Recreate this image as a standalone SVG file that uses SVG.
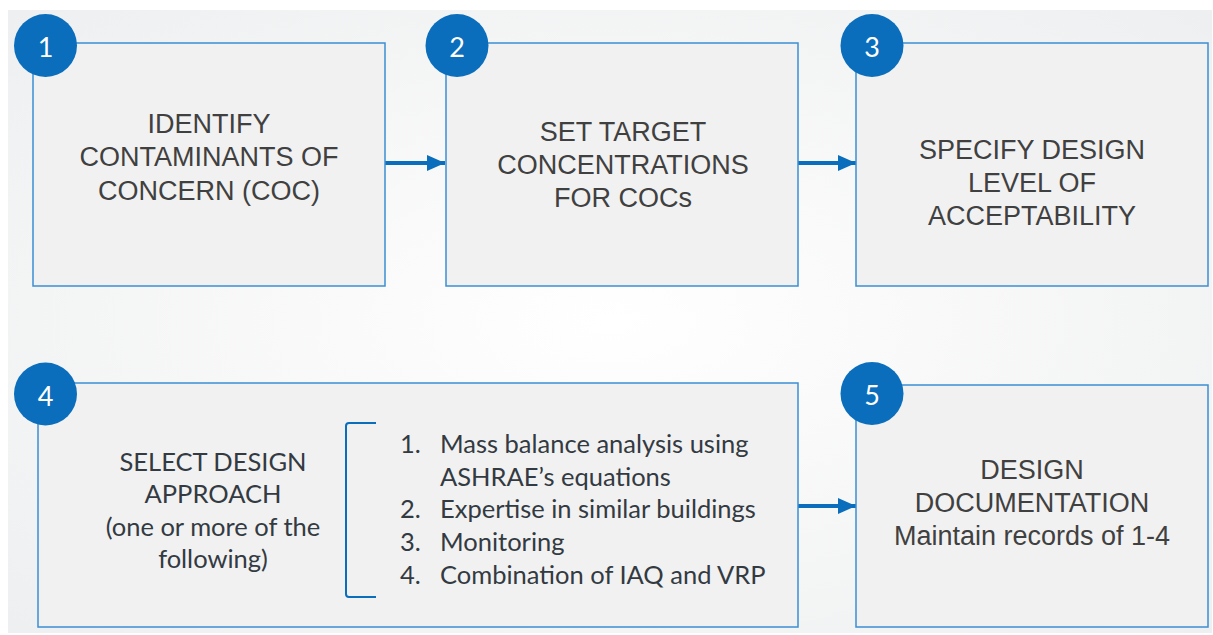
<svg xmlns="http://www.w3.org/2000/svg" width="1213" height="635" viewBox="0 0 1213 635">
<style>
.box{fill:#f1f1f1;stroke:#3b8ed3;stroke-width:1.5}
.badge{fill:#0a6ebd}
.num{fill:#ffffff;font-family:Lato,"Open Sans",sans-serif;font-size:27px;text-anchor:middle}
.t{fill:#404040;font-family:"Liberation Sans",Arial,sans-serif;font-size:27px;text-anchor:middle}
.g{fill:#333a42;font-family:Lato,"Open Sans",sans-serif;font-size:25.5px}
.gc{text-anchor:middle}
.conn{stroke:#0a6ebd;stroke-width:4;fill:none}
</style>
<defs>
<radialGradient id="bg" cx="0.5" cy="0.5" r="0.7">
<stop offset="0" stop-color="#ffffff"/>
<stop offset="1" stop-color="#eeeff0"/>
</radialGradient>
<marker id="ah" markerWidth="5" markerHeight="5" refX="4.5" refY="2.5" orient="auto" markerUnits="strokeWidth">
<path d="M0,0.5 L4.5,2.5 L0,4.5 Z" fill="#0a6ebd"/>
</marker>
</defs>
<rect x="0" y="0" width="1213" height="635" fill="#ffffff"/>
<rect x="8" y="10" width="1204" height="623" fill="url(#bg)"/>

<g id="connectors">
<line class="conn" x1="385" y1="163" x2="445" y2="163" marker-end="url(#ah)"/>
<line class="conn" x1="798" y1="163" x2="856" y2="163" marker-end="url(#ah)"/>
<line class="conn" x1="797" y1="506" x2="856" y2="506" marker-end="url(#ah)"/>
</g>

<g id="node1">
<rect class="box" x="33" y="43" width="352" height="243"/>
<circle class="badge" cx="45.5" cy="45.5" r="31.5"/>
<text class="num" x="45.5" y="57">1</text>
<text class="t" x="209" y="133">IDENTIFY</text>
<text class="t" x="209" y="166">CONTAMINANTS OF</text>
<text class="t" x="209" y="200">CONCERN (COC)</text>
</g>

<g id="node2">
<rect class="box" x="446" y="43" width="352" height="243"/>
<circle class="badge" cx="457" cy="45.5" r="31.5"/>
<text class="num" x="457" y="57">2</text>
<text class="t" x="623" y="141">SET TARGET</text>
<text class="t" x="623" y="174">CONCENTRATIONS</text>
<text class="t" x="623" y="207">FOR COCs</text>
</g>

<g id="node3">
<rect class="box" x="856" y="43" width="352" height="243"/>
<circle class="badge" cx="872" cy="45.5" r="31.5"/>
<text class="num" x="872" y="57">3</text>
<text class="t" x="1032" y="159">SPECIFY DESIGN</text>
<text class="t" x="1032" y="192">LEVEL OF</text>
<text class="t" x="1032" y="225">ACCEPTABILITY</text>
</g>

<g id="node4">
<rect class="box" x="38" y="383" width="760" height="244"/>
<circle class="badge" cx="45.5" cy="394" r="31.5"/>
<text class="num" x="45.5" y="406">4</text>
<text class="g gc" x="213" y="471">SELECT DESIGN</text>
<text class="g gc" x="213" y="503">APPROACH</text>
<text class="g gc" x="213" y="536">(one or more of the</text>
<text class="g gc" x="213" y="568">following)</text>
<path d="M376,423 L349,423 Q346,423 346,426 L346,594 Q346,597 349,597 L376,597" fill="none" stroke="#0a6ebd" stroke-width="2"/>
<text class="g" x="400" y="453">1.</text>
<text class="g" x="440" y="453">Mass balance analysis using</text>
<text class="g" x="440" y="486">ASHRAE’s equations</text>
<text class="g" x="400" y="518">2.</text>
<text class="g" x="440" y="518">Expertise in similar buildings</text>
<text class="g" x="400" y="551">3.</text>
<text class="g" x="440" y="551">Monitoring</text>
<text class="g" x="400" y="584">4.</text>
<text class="g" x="440" y="584">Combination of IAQ and VRP</text>
</g>

<g id="node5">
<rect class="box" x="856" y="385" width="352" height="242"/>
<circle class="badge" cx="872" cy="393.5" r="31.5"/>
<text class="num" x="872" y="405">5</text>
<text class="t" x="1032" y="479">DESIGN</text>
<text class="t" x="1032" y="512">DOCUMENTATION</text>
<text class="t" x="1032" y="545">Maintain records of 1-4</text>
</g>
</svg>
